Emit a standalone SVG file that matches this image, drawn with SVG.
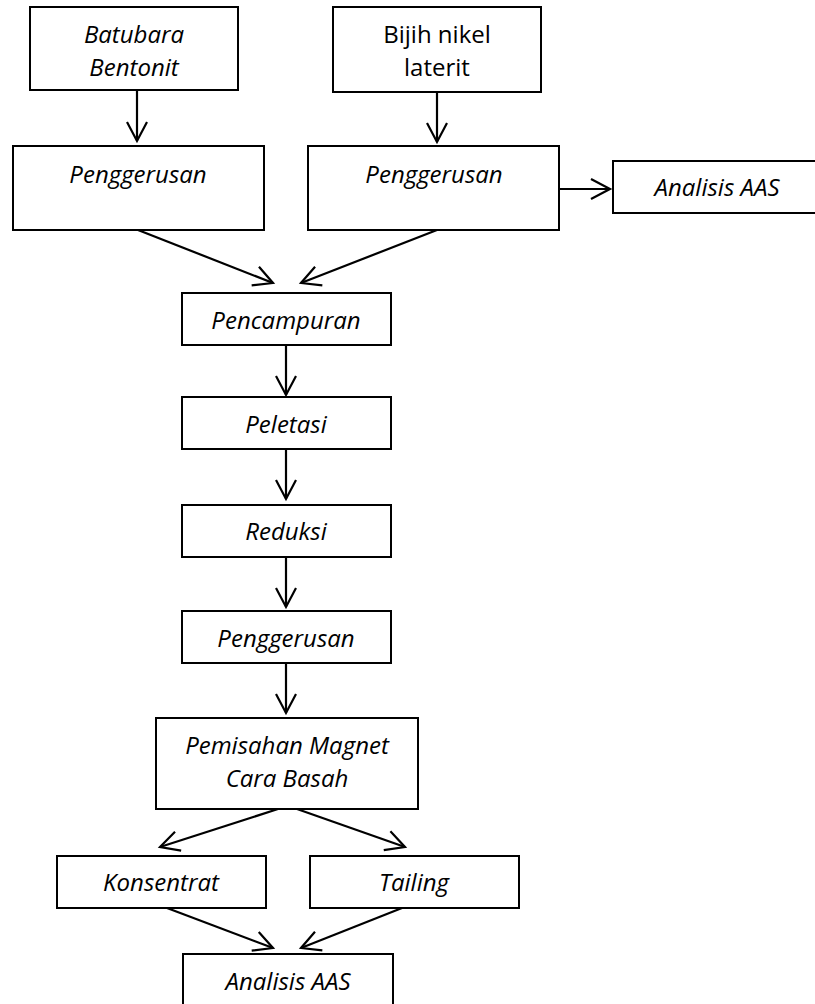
<svg xmlns="http://www.w3.org/2000/svg" width="815" height="1004" viewBox="0 0 815 1004">
<style>
.box{fill:#fff;stroke:#000;stroke-width:2}
.t{font-family:"Open Sans","Liberation Sans",sans-serif;font-size:24px;font-style:italic;text-anchor:middle;fill:#000}
.r{font-style:normal}
.c{stroke:#000;stroke-width:2.2;fill:none;marker-end:url(#ah)}
</style>
<defs>
<marker id="ah" markerUnits="userSpaceOnUse" markerWidth="24" markerHeight="24" viewBox="-21 -12 24 24" refX="0" refY="0" orient="auto">
<path d="M-19,-10 L0,0 L-19,10" fill="none" stroke="#000" stroke-width="2.2"/>
</marker>
</defs>
<rect width="815" height="1004" fill="#fff"/>
<g id="connectors">
<line class="c" x1="137" y1="90" x2="137" y2="141"/>
<line class="c" x1="437" y1="92" x2="437" y2="142"/>
<line class="c" x1="559" y1="189" x2="610" y2="189"/>
<line class="c" x1="138" y1="230" x2="273" y2="283"/>
<line class="c" x1="437" y1="230" x2="301" y2="283"/>
<line class="c" x1="286" y1="345" x2="286" y2="395"/>
<line class="c" x1="286" y1="449" x2="286" y2="499"/>
<line class="c" x1="286" y1="557" x2="286" y2="607"/>
<line class="c" x1="286" y1="663" x2="286" y2="713"/>
<line class="c" x1="278" y1="809" x2="160" y2="847"/>
<line class="c" x1="297" y1="809" x2="405" y2="847"/>
<line class="c" x1="167" y1="908" x2="273" y2="948"/>
<line class="c" x1="402" y1="908" x2="301" y2="948"/>
</g>
<g id="n-batubara"><rect class="box" x="30" y="7" width="208" height="83"/><text class="t" x="134" y="43">Batubara</text><text class="t" x="134" y="76">Bentonit</text></g>
<g id="n-bijih"><rect class="box" x="333" y="7" width="208" height="85"/><text class="t r" x="437" y="43">Bijih nikel</text><text class="t r" x="437" y="76">laterit</text></g>
<g id="n-gerus1"><rect class="box" x="13" y="146" width="251" height="84"/><text class="t" x="138" y="183">Penggerusan</text></g>
<g id="n-gerus2"><rect class="box" x="308" y="146" width="251" height="84"/><text class="t" x="434" y="183">Penggerusan</text></g>
<g id="n-aas1"><rect class="box" x="613" y="161" width="210" height="52"/><text class="t" x="717" y="196">Analisis AAS</text></g>
<g id="n-campur"><rect class="box" x="182" y="293" width="209" height="52"/><text class="t" x="286" y="329">Pencampuran</text></g>
<g id="n-pelet"><rect class="box" x="182" y="397" width="209" height="52"/><text class="t" x="286" y="433">Peletasi</text></g>
<g id="n-reduksi"><rect class="box" x="182" y="505" width="209" height="52"/><text class="t" x="286" y="540">Reduksi</text></g>
<g id="n-gerus3"><rect class="box" x="182" y="611" width="209" height="52"/><text class="t" x="286" y="647">Penggerusan</text></g>
<g id="n-magnet"><rect class="box" x="156" y="718" width="262" height="91"/><text class="t" x="287" y="754">Pemisahan Magnet</text><text class="t" x="287" y="787">Cara Basah</text></g>
<g id="n-konsentrat"><rect class="box" x="57" y="856" width="209" height="52"/><text class="t" x="161" y="891">Konsentrat</text></g>
<g id="n-tailing"><rect class="box" x="310" y="856" width="209" height="52"/><text class="t" x="414" y="891">Tailing</text></g>
<g id="n-aas2"><rect class="box" x="183" y="954" width="210" height="60"/><text class="t" x="288" y="990">Analisis AAS</text></g>
</svg>
